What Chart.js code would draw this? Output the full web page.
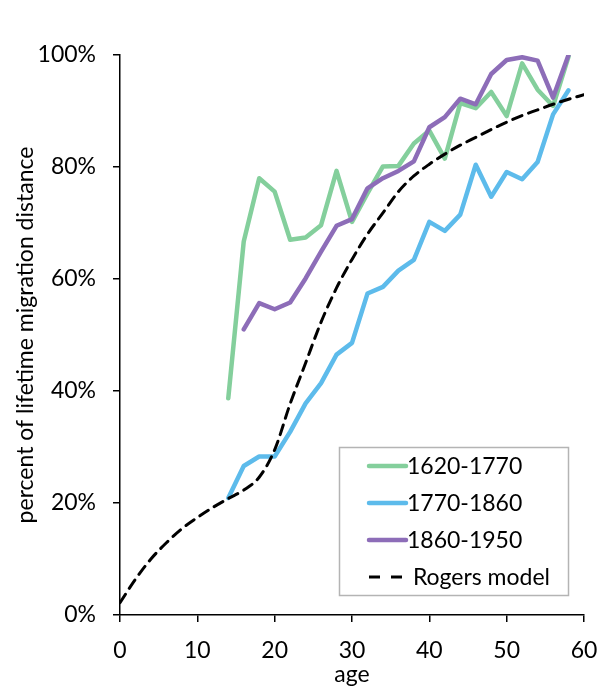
<!DOCTYPE html>
<html lang="en">
<head>
<meta charset="UTF-8">
<title>Lifetime migration distance by age</title>
<script src="https://cdn.jsdelivr.net/npm/chart.js"></script>
<style>
  html, body {margin:0; padding:0; background:#fff}
  #wrap {width:600px; height:690px}
</style>
</head>
<body>
<div id="wrap"><canvas id="chart" width="600" height="690"></canvas></div>
<script>
// ages observed for the three cohorts (every 2 years)
const ages = [14,16,18,20,22,24,26,28,30,32,34,36,38,40,42,44,46,48,50,52,54,56,58];
// share of lifetime migration distance reached by each age, in %
const cohort1620 = [38.7,66.7,78.0,75.6,67.0,67.4,69.6,79.3,70.2,75.3,80.1,80.2,84.2,86.5,81.5,91.4,90.5,93.4,89.1,98.5,93.8,90.9,99.7];
const cohort1770 = [20.9,26.6,28.3,28.3,32.7,37.8,41.4,46.5,48.6,57.4,58.6,61.5,63.4,70.2,68.6,71.5,80.4,74.7,79.1,77.8,80.9,89.4,93.7];
const cohort1860 = [null,51.0,55.7,54.6,55.8,60.1,64.9,69.5,70.7,76.2,78.0,79.3,81.0,87.1,88.9,92.2,91.2,96.6,99.1,99.6,99.0,92.4,100];

// Rogers model curve
const modelAges = [0,2,4,6,8,10,12,14,16,18,20,22,24,26,28,30,32,34,36,38,40,42,44,46,48,50,52,54,56,58,60];
const rogers = [2.2,6.4,10.0,12.9,15.4,17.4,19.2,20.8,22.3,24.6,29.5,37.7,45.0,52.3,58.4,63.5,68.0,71.8,75.6,78.4,80.5,82.3,83.9,85.3,86.7,88.0,89.2,90.2,91.2,92.1,92.9];

const xTicks = [0,10,20,30,40,50,60];
const yTicks = [0,20,40,60,80,100];

const FONT = 'Lato';
const SIZE = 23;
const pts = (xs, ys) => xs.map((x, i) => ({x, y: ys[i]}));

// legend box drawn inside the plot, lower right
const boxLegend = {
  id: 'boxLegend',
  afterDraw(chart) {
    const ctx = chart.ctx;
    const ca = chart.chartArea;
    const bx = ca.right - 245, by = ca.bottom - 168, bw = 229, bh = 148;
    ctx.save();
    ctx.strokeStyle = '#b4b4b4';
    ctx.lineWidth = 1.5;
    ctx.strokeRect(bx + 0.5, by + 0.5, bw, bh);
    ctx.font = SIZE + 'px ' + FONT;
    ctx.textBaseline = 'middle';
    ctx.fillStyle = '#000';
    chart.data.datasets.forEach((ds, i) => {
      const y = by + 19 + i * 37;
      ctx.beginPath();
      ctx.strokeStyle = ds.borderColor;
      ctx.lineWidth = ds.borderWidth;
      if (ds.borderDash) { ctx.setLineDash([11, 11]); ctx.lineCap = 'butt'; }
      else { ctx.setLineDash([]); ctx.lineCap = 'round'; }
      ctx.moveTo(bx + 30, y);
      ctx.lineTo(bx + 67, y);
      ctx.stroke();
      ctx.fillText(ds.label, bx + 68, y + 1);
    });
    ctx.restore();
  }
};

function draw() {
  const font = {family: FONT, size: SIZE};
  new Chart(document.getElementById('chart'), {
    type: 'line',
    data: {
      datasets: [
        {label: '1620-1770', data: pts(ages, cohort1620), borderColor: '#84cf9c', borderWidth: 4.5, order: 4},
        {label: '1770-1860', data: pts(ages, cohort1770), borderColor: '#5dbbeb', borderWidth: 4.5, order: 3},
        {label: '1860-1950', data: pts(ages, cohort1860), borderColor: '#8d6db8', borderWidth: 4.5, order: 2},
        {label: ' Rogers model', data: pts(modelAges, rogers), borderColor: '#000', borderWidth: 3,
         borderDash: [10, 7], cubicInterpolationMode: 'monotone', order: 1}
      ]
    },
    options: {
      responsive: false,
      animation: false,
      events: [],
      layout: {padding: {top: 55, right: 16, left: 0, bottom: 0}},
      elements: {
        point: {radius: 0},
        line: {tension: 0, borderJoinStyle: 'round', borderCapStyle: 'round', fill: false}
      },
      plugins: {legend: {display: false}, tooltip: {enabled: false}},
      scales: {
        x: {
          type: 'linear', min: 0, max: 60,
          // fixed axis band; the edge labels fit in the layout padding
          afterFit: s => { s.height = 75; s.paddingLeft = 0; s.paddingRight = 0; },
          afterBuildTicks: s => { s.ticks = xTicks.map(v => ({value: v})); },
          ticks: {color: '#000', padding: 15, font},
          grid: {drawOnChartArea: false, drawTicks: true, tickLength: 7, color: '#000', lineWidth: 1.5},
          border: {display: true, color: '#000', width: 1.5},
          title: {display: true, text: 'age', color: '#000', font, padding: {top: 0, bottom: 2}}
        },
        y: {
          min: 0, max: 100,
          afterFit: s => { s.width = 120; },
          afterBuildTicks: s => { s.ticks = yTicks.map(v => ({value: v})); },
          ticks: {color: '#000', padding: 17, font, callback: v => v + '%'},
          grid: {drawOnChartArea: false, drawTicks: true, tickLength: 7, color: '#000', lineWidth: 1.5},
          border: {display: true, color: '#000', width: 1.5},
          title: {display: true, text: 'percent of lifetime migration distance', color: '#000',
                  font, padding: {top: 12, bottom: 0}}
        }
      }
    },
    plugins: [boxLegend]
  });
}

document.fonts.load(SIZE + 'px ' + FONT).then(draw, draw);
</script>
</body>
</html>
